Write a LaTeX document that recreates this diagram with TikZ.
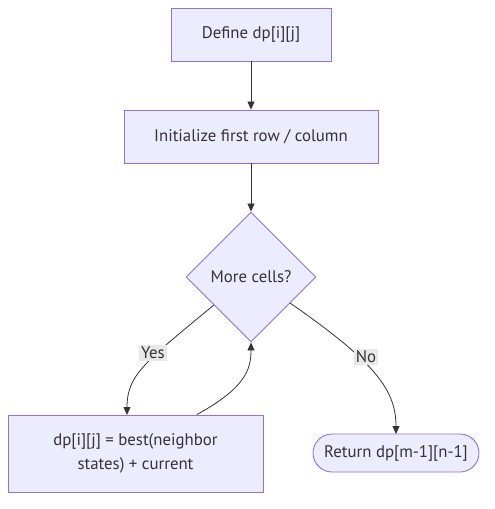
\documentclass[tikz,border=0pt]{standalone}
\usepackage{fontspec}
\setmainfont{PT Sans}
\usetikzlibrary{shapes.geometric,arrows.meta,calc}
\definecolor{nodefill}{HTML}{ECECFF}
\definecolor{nodeline}{HTML}{9370DB}
\definecolor{edgecol}{HTML}{333333}
\definecolor{txtcol}{HTML}{333333}
\definecolor{lblbg}{HTML}{E8E8E8}
\begin{document}
\begin{tikzpicture}[x=1pt,y=-1pt,
  every node/.style={font=\fontsize{16.8}{24}\selectfont, text=txtcol},
  procbox/.style={draw=nodeline, fill=nodefill, line width=0.9pt, inner sep=0pt, align=center},
  decbox/.style={draw=nodeline, fill=nodefill, line width=0.9pt, diamond, aspect=1, inner sep=0pt, minimum width=130pt, minimum height=130pt},
  termbox/.style={draw=nodeline, fill=nodefill, line width=0.9pt, rounded corners=19pt, inner sep=0pt},
  flow/.style={draw=edgecol, line width=0.8pt, -{Triangle[length=8pt,width=7pt]}},
  lbl/.style={fill=lblbg, inner sep=2pt, font=\fontsize{16.8}{18}\selectfont}
]
\useasboundingbox (0,0) rectangle (495,509);
\node[procbox, minimum width=160pt, minimum height=53pt] (A) at (251,34.5) {Define dp[i][j]};
\node[procbox, minimum width=254pt, minimum height=53pt] (B) at (251,136.5) {Initialize first row / column};
\node[decbox] (C) at (251,277) {More cells?};
\node[procbox, minimum width=255pt, minimum height=77pt] (D) at (135.5,453.5) {dp[i][j] = best(neighbor\\states) + current};
\node[termbox, minimum width=166pt, minimum height=38pt] (E) at (396,453) {Return dp[m-1][n-1]};
\coordinate (cl) at ($(C.west)!0.43!(C.south)$);
\coordinate (cr) at ($(C.east)!0.4!(C.south)$);
\coordinate (dt) at ($(D.north west)!0.74!(D.north east)$);
\draw[flow] (A.south) -- (B.north);
\draw[flow] (B.south) -- (C.north);
\draw[flow] (cl) .. controls (145,362) and (127,375) .. (127,415) coordinate (dy);
\draw[flow] (dt) .. controls (245,388) and (251,370) .. (C.south);
\draw[flow] (cr) .. controls (375,362) and (396,390) .. (396,434) coordinate (en);
\node[lbl] (yes) at (153,353) {Yes};
\node[lbl] (no) at (366,357) {No};
\end{tikzpicture}
\end{document}
